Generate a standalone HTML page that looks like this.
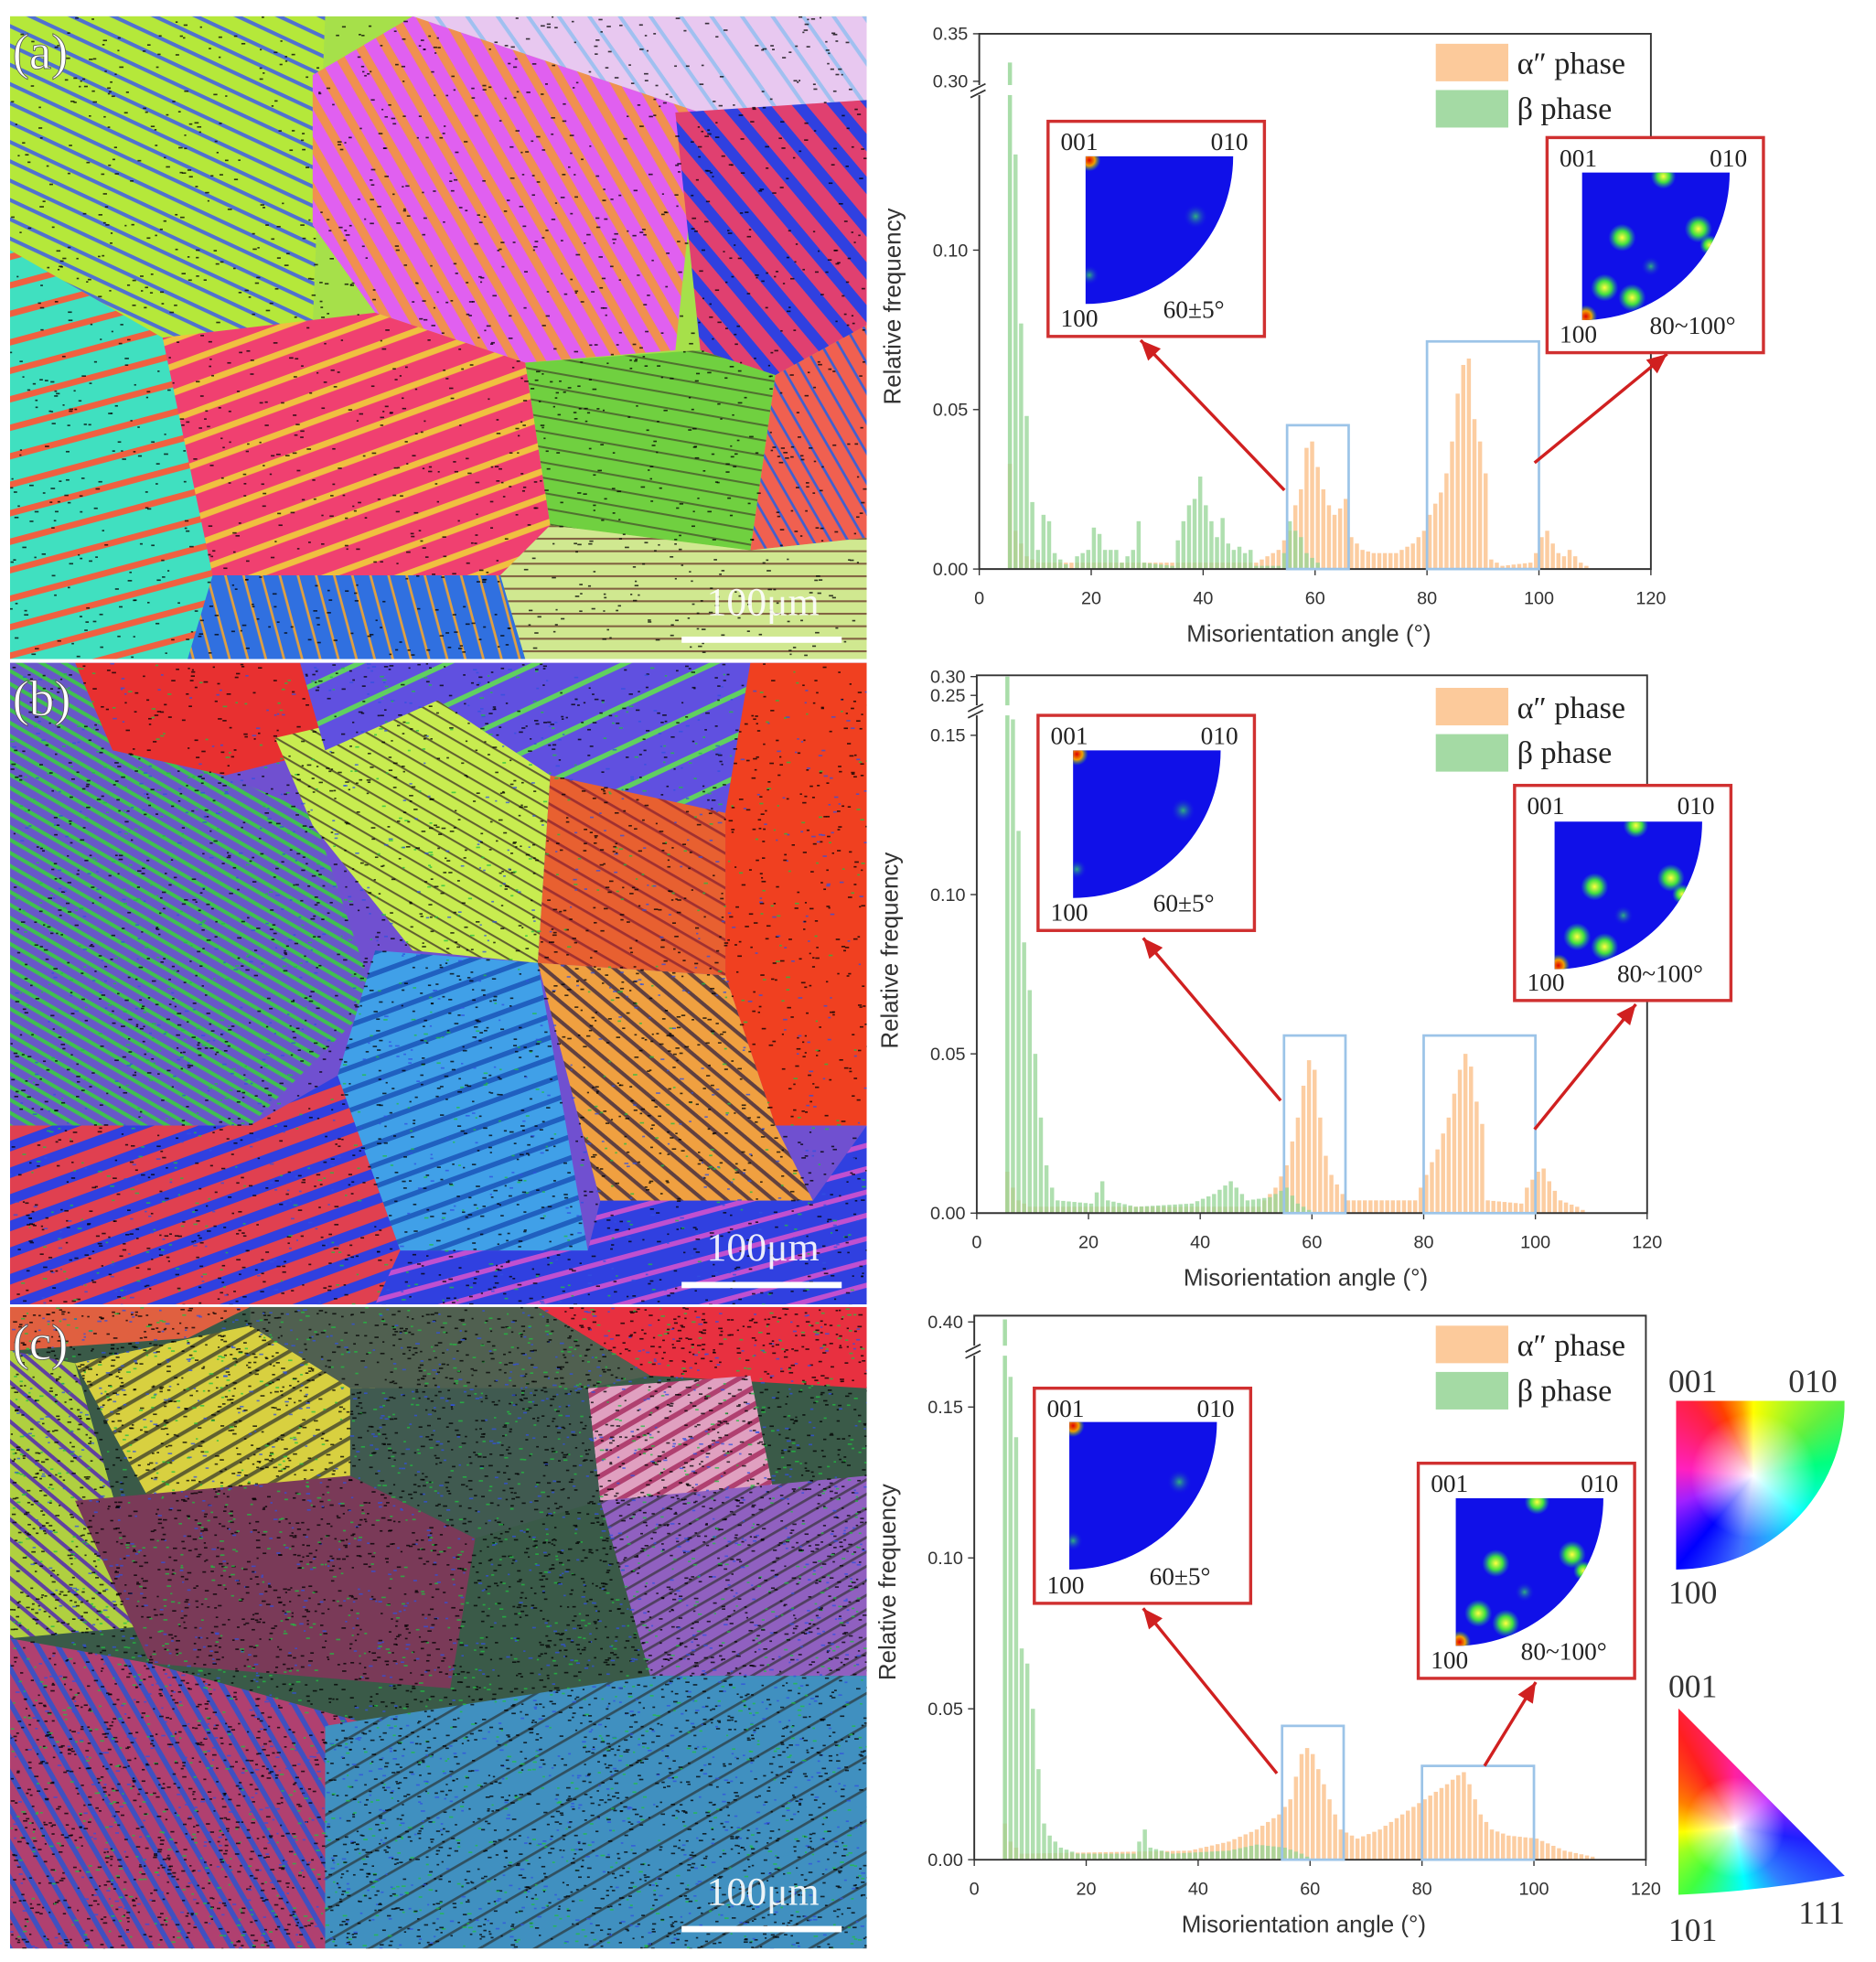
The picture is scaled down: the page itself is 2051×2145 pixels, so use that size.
<!DOCTYPE html>
<html><head><meta charset="utf-8">
<style>
html,body{margin:0;padding:0;background:#fff;}
svg{display:block;}
.tk{font-family:"Liberation Sans",sans-serif;font-size:14.5px;fill:#333;}
.xl{font-family:"Liberation Sans",sans-serif;font-size:19px;fill:#333;}
.lg{font-family:"Liberation Serif",serif;font-size:25px;fill:#222;}
.il{font-family:"Liberation Serif",serif;font-size:20px;fill:#222;}
.kl{font-family:"Liberation Serif",serif;font-size:26px;fill:#333;}
</style></head><body>
<svg id="s" width="2051" height="2145" viewBox="0 0 1500 1568.8" preserveAspectRatio="none" xmlns="http://www.w3.org/2000/svg">
<defs>
<clipPath id="ca"><rect x="8" y="13" width="685" height="514"/></clipPath>
<clipPath id="cb"><rect x="8" y="530" width="685" height="513"/></clipPath>
<clipPath id="cc"><rect x="8" y="1045" width="685" height="513"/></clipPath>
<radialGradient id="spot"><stop offset="0" stop-color="#ffff40"/><stop offset="0.5" stop-color="#40e040"/><stop offset="1" stop-color="#20a0a0" stop-opacity="0"/></radialGradient>
<radialGradient id="rspot"><stop offset="0" stop-color="#e00000"/><stop offset="0.5" stop-color="#f0a000"/><stop offset="1" stop-color="#40c040" stop-opacity="0"/></radialGradient>
<radialGradient id="fspot"><stop offset="0" stop-color="#30b080"/><stop offset="1" stop-color="#1010e8" stop-opacity="0"/></radialGradient>
<clipPath id="qd"><path d="M1340,1120 L1475,1120 A135,135 0 0 1 1340,1255 Z"/></clipPath>
<clipPath id="tri"><path d="M1342,1366 L1475,1500 Q1410,1512 1342,1515 Z"/></clipPath>
</defs>
<g id="maps"></g>
<g id="charts"></g>
<text class="kl" x="1334" y="1113">001</text><text class="kl" x="1430" y="1113">010</text>
<foreignObject x="1340" y="1120" width="135" height="135" clip-path="url(#qd)">
<div xmlns="http://www.w3.org/1999/xhtml" style="width:135px;height:135px;background:radial-gradient(circle at 62px 60px,#fff 0,rgba(255,255,255,0.7) 14px,rgba(255,255,255,0) 50px),conic-gradient(from 0deg at 62px 60px,#ffff00 0deg,#60f040 50deg,#00ff80 80deg,#00ffff 130deg,#4070ff 190deg,#0000ff 220deg,#a020ff 250deg,#ff20c0 275deg,#ff2040 320deg,#ff4000 335deg,#ffa000 350deg,#ffff00 360deg);"></div>
</foreignObject>
<text class="kl" x="1334" y="1282">100</text>
<text class="kl" x="1334" y="1357">001</text>
<foreignObject x="1342" y="1366" width="135" height="150" clip-path="url(#tri)">
<div xmlns="http://www.w3.org/1999/xhtml" style="width:135px;height:150px;background:radial-gradient(circle at 45px 95px,#fff 0,rgba(255,255,255,0.7) 10px,rgba(255,255,255,0) 40px),conic-gradient(from 0deg at 45px 95px,#ff20a0 0deg,#c020ff 50deg,#2020ff 100deg,#3080ff 140deg,#00ffff 170deg,#40ff40 215deg,#a0ff20 245deg,#ffff00 265deg,#ff8000 295deg,#ff2020 330deg,#ff20a0 360deg);"></div>
</foreignObject>
<text class="kl" x="1334" y="1552">101</text><text class="kl" x="1438" y="1538">111</text>
</svg>
<script>
var NS="http://www.w3.org/2000/svg";
function el(p,t,a,txt){var e=document.createElementNS(NS,t);for(var k in a)e.setAttribute(k,a[k]);if(txt!==undefined)e.textContent=txt;p.appendChild(e);return e;}
var svg=document.getElementById('s'),maps=document.getElementById('maps'),charts=document.getElementById('charts');
var seed=7;function rnd(){seed=(seed*16807)%2147483647;return seed/2147483647;}
var defs=svg.querySelector('defs');
function stripe(id,base,col,ang,gap,w){var p=el(defs,'pattern',{id:id,patternUnits:'userSpaceOnUse',width:gap,height:gap,patternTransform:'rotate('+ang+')'});el(p,'rect',{width:gap,height:gap,fill:base});el(p,'rect',{width:gap,height:w,fill:col});return 'url(#'+id+')';}
var grains={
a:[['#a6e04a'],
['8,13 260,13 250,260 130,270 8,200',stripe('s1','#b5e83a','#5070d0',25,14,3)],
['250,60 330,13 560,90 540,280 420,290 300,250 250,180',stripe('s2','#e060f0','#f09050',60,18,7)],
['330,13 693,13 693,80 560,90',stripe('s3','#e8c8f0','#a0c0f0',55,20,3)],
['540,90 693,80 693,260 620,300 560,280',stripe('s4','#e04070','#3040e0',50,22,9)],
['8,200 130,270 180,460 150,527 8,527',stripe('s5','#40e0c0','#f06040',-15,22,5)],
['130,270 300,250 420,290 440,420 400,460 170,460',stripe('s6','#f04070','#f0c040',-20,20,5)],
['420,290 560,280 620,300 600,440 440,420',stripe('s7','#70d040','#507030',10,12,1.5)],
['620,300 693,260 693,430 600,440',stripe('s8','#f06050','#4060d0',60,12,2)],
['440,420 600,440 693,430 693,527 420,527 400,460',stripe('s9','#d0e890','#806040',0,10,1.5)],
['170,460 400,460 420,527 150,527',stripe('s10','#3070e0','#e0a040',75,14,2)]],
b:[['#7050d0'],
['60,530 240,530 260,600 180,620 90,600','#e83030'],
['8,530 60,530 90,600 180,620 250,650 300,800 200,900 8,900',stripe('t2','#6858c8','#40c050',30,9,3)],
['220,590 350,560 440,620 430,770 330,760 250,660',stripe('t3','#c8ec50','#606030',30,10,1.5)],
['240,530 600,530 580,650 440,620 350,560 260,600',stripe('t4','#6050e0','#60d060',-25,30,4)],
['600,530 693,530 693,900 620,900 580,780 580,650','#f04020'],
['440,620 580,650 580,780 430,770',stripe('t6','#e86030','#a03030',30,12,2)],
['300,760 430,770 470,1000 320,1000 270,860',stripe('t7','#40a0e8','#2060c0',-20,16,4)],
['430,770 580,780 620,900 650,960 480,960',stripe('t8','#f0a040','#604040',40,12,3)],
['8,900 200,900 270,860 320,1000 300,1043 8,1043',stripe('t9','#e04050','#3040e0',-20,20,8)],
['320,1000 470,1000 480,960 650,960 693,900 693,1043 300,1043',stripe('t10','#3040e0','#c050d0',-15,18,4)]],
c:[['#3a5a48'],
['430,1045 693,1045 693,1110 520,1100','#e83040'],
['8,1045 200,1045 150,1070 8,1080','#e06040'],
['60,1090 200,1060 300,1110 280,1180 120,1200',stripe('u3','#d8d040','#606030',-30,14,3)],
['8,1080 60,1090 120,1300 8,1310',stripe('u4','#b0d040','#6040a0',40,12,3)],
['60,1200 280,1180 380,1230 360,1350 120,1330','#7a3a58'],
['470,1110 600,1100 620,1200 480,1200',stripe('u6','#e0a0c0','#b04070',-30,12,4)],
['480,1200 693,1180 693,1340 520,1340',stripe('u7','#9060c0','#504060',-30,10,2)],
['8,1310 120,1330 300,1380 260,1558 8,1558',stripe('u8','#b04070','#4050c0',60,14,4)],
['260,1380 520,1340 693,1340 693,1558 260,1558',stripe('u9','#4090c0','#305060',-30,22,2)],
['200,1045 430,1045 520,1100 470,1110 280,1110 200,1060','#506050'],
['280,1110 470,1110 480,1200 380,1230 280,1180','#405a50']]};
var box={a:[8,13,527],b:[8,530,1043],c:[8,1045,1558]},noise={a:1500,b:3500,c:8000};
['a','b','c'].forEach(function(k){
 var g=el(maps,'g',{'clip-path':'url(#c'+k+')'});var B=box[k];
 el(g,'rect',{x:8,y:B[1],width:685,height:B[2]-B[1],fill:grains[k][0][0]});
 grains[k].slice(1).forEach(function(q){el(g,'polygon',{points:q[0],fill:q[1]});});
 var cols=['#000','#000','#000','#20c040','#3050e0'];
 for(var i=0;i<noise[k];i++){el(g,'rect',{x:8+rnd()*685,y:B[1]+rnd()*(B[2]-B[1]),width:1.5+rnd()*2,height:1.2,fill:cols[Math.floor(rnd()*(k=='a'?3:5))],opacity:0.75});}
 el(g,'rect',{x:545,y:B[2]-18,width:128,height:5,fill:'#fff'});
 el(g,'text',{x:610,y:B[2]-35,'text-anchor':'middle','font-family':'Liberation Serif,serif','font-size':32,fill:'#fff',opacity:0.9},'100μm');
 el(g,'text',{x:10,y:B[1]+42,'font-family':'Liberation Serif,serif','font-size':40,fill:'#fff',stroke:'#555','stroke-width':0.6},'('+k+')');
});
function interp(pts,n){var out=[];for(var d=0;d<120;d++){var v=0;for(var i=0;i<pts.length-1;i++){if(d>=pts[i][0]&&d<=pts[i+1][0]){var t=(d-pts[i][0])/((pts[i+1][0]-pts[i][0])||1);v=pts[i][1]+t*(pts[i+1][1]-pts[i][1]);break;}}out.push(v);}return out;}
var C=[
{x0:783,x1:1320,y0:455,top:27,ppu:2550,ticks:[[0,'0.00'],[0.05,'0.05'],[0.10,'0.10']],hiT:[[65,'0.30'],[27,'0.35']],brk:72,peak:50,
 ylab:245,xlabY:513,leg:35,
 g:[[5,0],[6,0.13],[7,0.077],[8,0.048],[9,0.021],[10,0.006],[11,0.017],[12,0.015],[13,0.005],[14,0.003],[16,0],[17,0.004],[19,0.006],[20,0.013],[21,0.011],[22,0.006],[24,0.006],[25,0.002],[27,0.006],[28,0.015],[29,0.002],[34,0.001],[35,0.009],[36,0.015],[37,0.02],[38,0.022],[39,0.029],[40,0.02],[41,0.015],[42,0.01],[43,0.016],[44,0.008],[45,0.006],[46,0.007],[47,0.005],[48,0.006],[49,0.001],[53,0.001],[54,0.005],[55,0.015],[56,0.012],[57,0.01],[58,0.005],[60,0.002],[61,0]],
 o:[[5,0.033],[6,0.012],[7,0.008],[8,0.004],[10,0.002],[49,0.002],[53,0.006],[55,0.012],[56,0.02],[57,0.025],[58,0.038],[59,0.04],[60,0.032],[61,0.025],[62,0.02],[63,0.017],[64,0.019],[65,0.022],[66,0.01],[68,0.006],[70,0.005],[74,0.005],[77,0.008],[79,0.012],[80,0.017],[82,0.024],[83,0.03],[84,0.04],[85,0.055],[86,0.064],[87,0.066],[88,0.047],[89,0.04],[90,0.03],[91,0.003],[93,0.001],[98,0.002],[99,0.005],[100,0.01],[101,0.012],[102,0.008],[103,0.005],[104,0.004],[105,0.006],[106,0.004],[107,0.002],[108,0.001],[109,0]],
 in1:[838,97,868,125],in2:[1237,110,1265,138],bl1:340,bl2:273,ar:[[1027,392,912,272],[1227,370,1333,283]]},
{x0:781,x1:1317,y0:970,top:540,ppu:2547,ticks:[[0,'0.00'],[0.05,'0.05'],[0.10,'0.10'],[0.15,'0.15']],hiT:[[556,'0.25'],[541,'0.30']],brk:568,peak:541,
 ylab:760,xlabY:1028,leg:550,
 g:[[5,0],[6,0.155],[7,0.12],[8,0.085],[9,0.07],[10,0.05],[11,0.03],[12,0.015],[13,0.008],[14,0.004],[20,0.003],[22,0.01],[23,0.004],[28,0.002],[38,0.003],[42,0.006],[45,0.01],[48,0.004],[52,0.005],[55,0.008],[57,0.003],[60,0]],
 o:[[5,0.013],[6,0.008],[7,0.004],[9,0.002],[50,0.002],[53,0.008],[55,0.015],[57,0.03],[58,0.04],[59,0.048],[60,0.045],[61,0.03],[62,0.018],[63,0.012],[65,0.006],[66,0.004],[78,0.004],[80,0.012],[82,0.02],[84,0.03],[86,0.045],[87,0.05],[88,0.046],[89,0.035],[90,0.028],[91,0.004],[97,0.003],[98,0.008],[100,0.013],[101,0.014],[102,0.01],[104,0.004],[107,0.002],[109,0]],
 in1:[830,572,858,600],in2:[1211,628,1243,657],bl1:828,bl2:828,ar:[[1024,880,914,750],[1227,903,1308,803]]},
{x0:779,x1:1316,y0:1487,top:1052,ppu:2413,ticks:[[0,'0.00'],[0.05,'0.05'],[0.10,'0.10'],[0.15,'0.15']],hiT:[[1057,'0.40']],brk:1080,peak:1055,
 ylab:1265,xlabY:1545,leg:1060,
 g:[[5,0],[6,0.16],[7,0.14],[8,0.07],[9,0.065],[10,0.05],[11,0.03],[12,0.012],[13,0.008],[15,0.004],[18,0.002],[28,0.002],[30,0.01],[31,0.004],[35,0.002],[45,0.003],[50,0.005],[55,0.004],[58,0.002],[60,0]],
 o:[[5,0.012],[6,0.006],[8,0.002],[38,0.003],[45,0.006],[50,0.01],[54,0.015],[56,0.02],[58,0.035],[59,0.037],[60,0.035],[61,0.03],[62,0.025],[63,0.02],[64,0.015],[65,0.01],[68,0.007],[72,0.01],[76,0.015],[80,0.02],[84,0.025],[86,0.028],[87,0.029],[88,0.025],[89,0.02],[90,0.015],[92,0.01],[95,0.008],[100,0.007],[105,0.003],[110,0.001],[111,0]],
 in1:[827,1110,855,1137],in2:[1134,1170,1164,1198],bl1:1380,bl2:1412,ar:[[1021,1418,914,1286],[1187,1412,1228,1345]]}];
C.forEach(function(c){
 var sx=(c.x1-c.x0)/120,g=el(charts,'g',{});
 function X(d){return c.x0+d*sx;}
 function Y(v){return c.y0-v*c.ppu;}
 var G=interp(c.g),O=interp(c.o);
 for(var d=0;d<120;d++){
  if(O[d]>0)el(g,'rect',{x:X(d)+0.5,y:Y(O[d]),width:sx-1.2,height:O[d]*c.ppu,fill:'#fcc490',opacity:0.85});
  if(G[d]>0)el(g,'rect',{x:X(d)+0.5,y:Y(G[d]),width:sx-1.2,height:G[d]*c.ppu,fill:'#94d494',opacity:0.75});
 }
 el(g,'rect',{x:X(5)+0.5,y:c.peak,width:sx-1.2,height:c.y0-c.peak,fill:'#94d494',opacity:0.8});
 el(g,'rect',{x:X(5)-2,y:c.brk-4,width:sx+4,height:8,fill:'#fff'});
 el(g,'path',{d:'M'+c.x0+','+c.top+' L'+c.x1+','+c.top+' L'+c.x1+','+c.y0+' L'+c.x0+','+c.y0+' Z',fill:'none',stroke:'#333','stroke-width':1.4});
 el(g,'rect',{x:c.x0-8,y:c.brk-4,width:14,height:8,fill:'#fff'});
 el(g,'path',{d:'M'+(c.x0-7)+','+(c.brk+1)+' l12,-6 M'+(c.x0-7)+','+(c.brk+6)+' l12,-6',stroke:'#333','stroke-width':1.3});
 c.ticks.forEach(function(t){var y=Y(t[0]);el(g,'line',{x1:c.x0-5,x2:c.x0,y1:y,y2:y,stroke:'#333'});el(g,'text',{class:'tk',x:c.x0-9,y:y+5,'text-anchor':'end'},t[1]);});
 c.hiT.forEach(function(t){el(g,'line',{x1:c.x0-5,x2:c.x0,y1:t[0],y2:t[0],stroke:'#333'});el(g,'text',{class:'tk',x:c.x0-9,y:t[0]+5,'text-anchor':'end'},t[1]);});
 for(var v=0;v<=120;v+=20){el(g,'line',{x1:X(v),x2:X(v),y1:c.y0,y2:c.y0+5,stroke:'#333'});el(g,'text',{class:'tk',x:X(v),y:c.y0+28,'text-anchor':'middle'},v);}
 el(g,'text',{class:'xl',x:(c.x0+c.x1)/2-5,y:c.xlabY,'text-anchor':'middle'},'Misorientation angle (°)');
 el(g,'text',{class:'xl',x:0,y:0,'text-anchor':'middle',transform:'translate('+(c.x0-63)+','+c.ylab+') rotate(-90)'},'Relative frequency');
 el(g,'rect',{x:1148,y:c.leg,width:58,height:30,fill:'#fcc490',opacity:0.9});
 el(g,'rect',{x:1148,y:c.leg+37,width:58,height:30,fill:'#94d494',opacity:0.85});
 el(g,'text',{class:'lg',x:1213,y:c.leg+24},'α″ phase');
 el(g,'text',{class:'lg',x:1213,y:c.leg+60},'β phase');
 el(g,'rect',{x:X(55),y:c.bl1,width:11*sx,height:c.y0-c.bl1,fill:'none',stroke:'#9cc4e8','stroke-width':2});
 el(g,'rect',{x:X(80),y:c.bl2,width:20*sx,height:c.y0-c.bl2,fill:'none',stroke:'#9cc4e8','stroke-width':2});
 c.ar.forEach(function(a){el(g,'line',{x1:a[0],y1:a[1],x2:a[2],y2:a[3],stroke:'#d02020','stroke-width':2.5});var ang=Math.atan2(a[3]-a[1],a[2]-a[0]);var L=16,W=7;var bx=a[2]-L*Math.cos(ang),by=a[3]-L*Math.sin(ang);el(g,'polygon',{points:a[2]+','+a[3]+' '+(bx-W*Math.sin(ang))+','+(by+W*Math.cos(ang))+' '+(bx+W*Math.sin(ang))+','+(by-W*Math.cos(ang)),fill:'#d02020'});});
 [[c.in1,'60±5°',[[3,3,'r',9],[88,48,'f',10],[3,95,'f',8]]],[c.in2,'80~100°',[[65,3,'s',10],[93,45,'s',11],[32,52,'s',11],[18,92,'s',11],[40,100,'s',11],[102,58,'s',8],[3,115,'r',9],[55,75,'f',8]]]].forEach(function(q){
  var b=q[0],ix=b[2],iy=b[3],R=118;
  el(g,'rect',{x:b[0],y:b[1],width:173,height:172,fill:'#fff',stroke:'#d03030','stroke-width':2.5});
  var cp=el(defs,'clipPath',{id:'cp'+ix+'_'+iy});
  el(cp,'path',{d:'M'+ix+','+iy+' L'+(ix+R)+','+iy+' A'+R+','+R+' 0 0 1 '+ix+','+(iy+R)+' Z'});
  el(g,'path',{d:'M'+ix+','+iy+' L'+(ix+R)+','+iy+' A'+R+','+R+' 0 0 1 '+ix+','+(iy+R)+' Z',fill:'#1010e8'});
  var sg=el(g,'g',{'clip-path':'url(#cp'+ix+'_'+iy+')'});
  q[2].forEach(function(s){el(sg,'circle',{cx:ix+s[0],cy:iy+s[1],r:s[3],fill:s[2]=='r'?'url(#rspot)':s[2]=='s'?'url(#spot)':'url(#fspot)'});});
  el(g,'text',{class:'il',x:b[0]+10,y:b[1]+23},'001');
  el(g,'text',{class:'il',x:b[0]+130,y:b[1]+23},'010');
  el(g,'text',{class:'il',x:b[0]+10,y:b[1]+164},'100');
  el(g,'text',{class:'il',x:b[0]+(q[1]=='60±5°'?92:82),y:b[1]+157},q[1]);
 });
});
</script>
</body></html>
